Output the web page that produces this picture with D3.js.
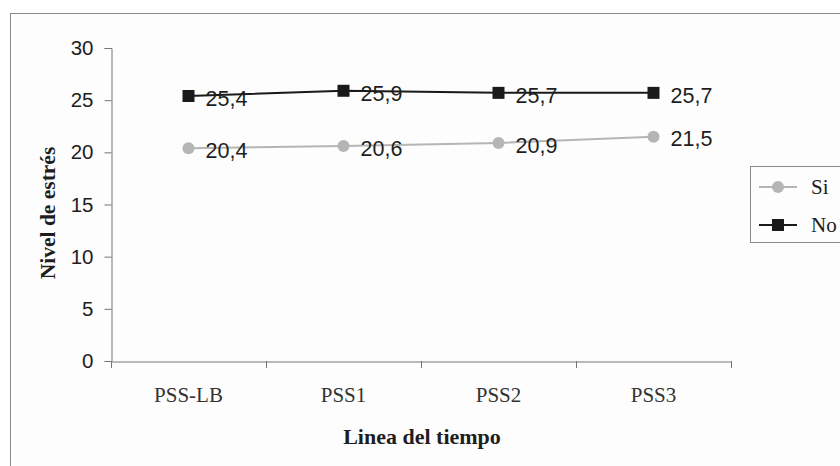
<!DOCTYPE html>
<html><head><meta charset="utf-8">
<script src="https://cdn.jsdelivr.net/npm/d3@7"></script>
<style>body{margin:0;background:#fff;} svg{display:block;}</style>
</head><body>
<svg id="c" width="840" height="466"></svg>
<script>
const categories = ["PSS-LB", "PSS1", "PSS2", "PSS3"];
const siValues = [20.4, 20.6, 20.9, 21.5];
const noValues = [25.4, 25.9, 25.7, 25.7];
const yTicks = [0, 5, 10, 15, 20, 25, 30];
const seriesNames = ["Si", "No"];

const svg = d3.select("#c");
svg.append("rect").attr("x", 0).attr("y", 0).attr("width", 840).attr("height", 466).attr("fill", "#fff");
svg.append("rect").attr("x", 10.5).attr("y", 13.5).attr("width", 900).attr("height", 500)
  .attr("fill", "#fdfdfd").attr("stroke", "#8a8a8a").attr("stroke-width", 1);

const x = d3.scaleBand().domain(categories).range([111, 731]);
const y = d3.scaleLinear().domain([0, 30]).range([361, 48]);

const yAxis = svg.append("g").attr("transform", "translate(111.5,0)")
  .call(d3.axisLeft(y).tickValues(yTicks).tickSize(7).tickPadding(11).tickFormat(d3.format("d")));
yAxis.select(".domain").attr("stroke", "#777");
yAxis.selectAll(".tick line").attr("stroke", "#777");
yAxis.selectAll("text").attr("font-family", "Liberation Sans, Arial, sans-serif").attr("font-size", 20.5).attr("fill", "#1e1e1e");

const xAxis = svg.append("g").attr("transform", "translate(0,361.5)")
  .call(d3.axisBottom(x).tickSize(0).tickPadding(26));
xAxis.select(".domain").attr("stroke", "#777");
xAxis.selectAll("text").attr("font-family", "Liberation Serif, Times New Roman, serif").attr("font-size", 21).attr("fill", "#333");
// category boundary ticks
const bounds = categories.map(c => x(c)).concat([x.range()[1]]);
svg.append("g").selectAll("line").data(bounds).join("line")
  .attr("x1", d => Math.round(d) + 0.5).attr("x2", d => Math.round(d) + 0.5)
  .attr("y1", 361).attr("y2", 368).attr("stroke", "#777");

svg.append("text").attr("x", 422).attr("y", 444).attr("text-anchor", "middle")
  .attr("font-family", "Liberation Serif, Times New Roman, serif").attr("font-weight", "bold").attr("font-size", 22)
  .attr("fill", "#1e1e1e").text("Linea del tiempo");
svg.append("text").attr("transform", "translate(55,213) rotate(-90)").attr("text-anchor", "middle")
  .attr("font-family", "Liberation Serif, Times New Roman, serif").attr("font-weight", "bold").attr("font-size", 21.5)
  .attr("fill", "#1e1e1e").text("Nivel de estrés");

const cx = c => x(c) + x.bandwidth() / 2;
const line = d3.line().x((d, i) => cx(categories[i])).y(d => y(d));
const series = [
  { name: seriesNames[0], values: siValues, color: "#b5b5b5", marker: "circle" },
  { name: seriesNames[1], values: noValues, color: "#1a1a1a", marker: "square" }
];

series.forEach(s => {
  svg.append("path").datum(s.values).attr("d", line).attr("fill", "none")
    .attr("stroke", s.color).attr("stroke-width", 2);
});
series.forEach(s => {
  const g = svg.append("g");
  s.values.forEach((v, i) => {
    const px = cx(categories[i]), py = y(v);
    if (s.marker === "circle") g.append("circle").attr("cx", px).attr("cy", py).attr("r", 6).attr("fill", s.color);
    else g.append("rect").attr("x", px - 6).attr("y", py - 6).attr("width", 12).attr("height", 12).attr("fill", s.color);
    svg.append("text").attr("x", px + 17).attr("y", py + 2).attr("dy", "0.36em")
      .attr("font-family", "Liberation Sans, Arial, sans-serif").attr("font-size", 21.5).attr("fill", "#1e1e1e")
      .text(d3.format(".1f")(v).replace(".", ","));
  });
});

// legend
const lg = svg.append("g");
lg.append("rect").attr("x", 750.5).attr("y", 166.5).attr("width", 120).attr("height", 76)
  .attr("fill", "#fdfdfd").attr("stroke", "#8a8a8a");
series.forEach((s, i) => {
  const ly = 187 + i * 38;
  lg.append("line").attr("x1", 759).attr("x2", 797).attr("y1", ly).attr("y2", ly).attr("stroke", s.color).attr("stroke-width", 2);
  if (s.marker === "circle") lg.append("circle").attr("cx", 778).attr("cy", ly).attr("r", 6).attr("fill", s.color);
  else lg.append("rect").attr("x", 772).attr("y", ly - 6).attr("width", 12).attr("height", 12).attr("fill", s.color);
  lg.append("text").attr("x", 811).attr("y", ly).attr("dy", "0.35em")
    .attr("font-family", "Liberation Serif, Times New Roman, serif").attr("font-size", 21).attr("fill", "#1e1e1e").text(s.name);
});
</script>
</body></html>
